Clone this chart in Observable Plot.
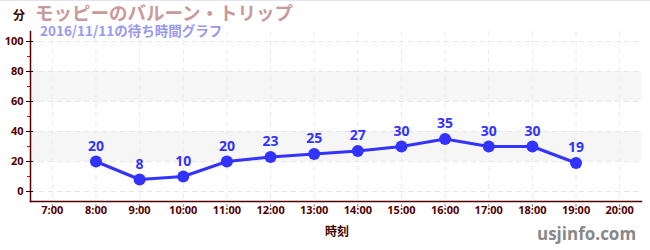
<!DOCTYPE html>
<html>
<head>
<meta charset="utf-8">
<script src="https://cdn.jsdelivr.net/npm/d3@7"></script>
<script src="https://cdn.jsdelivr.net/npm/@observablehq/plot@0.6"></script>
<style>
  html, body { margin: 0; padding: 0; background: #fff; }
  #wrap { position: relative; width: 650px; height: 250px; overflow: hidden; border-top: 1px solid #e4e4f6; box-sizing: border-box; }
  .t { position: absolute; white-space: nowrap; font-weight: bold; font-family: "Open Sans", "Noto Sans CJK JP", sans-serif; line-height: 1; }
  #wrap svg { position: absolute; left: 0; top: 0; }
</style>
</head>
<body>
<div id="wrap"></div>
<script>
// Data
const hours = [8, 9, 10, 11, 12, 13, 14, 15, 16, 17, 18, 19];
const waits = [20, 8, 10, 20, 23, 25, 27, 30, 35, 30, 30, 19];
const xTicks = [7, 8, 9, 10, 11, 12, 13, 14, 15, 16, 17, 18, 19, 20];
const yTicks = [0, 20, 40, 60, 80, 100];
const yMinorTicks = [10, 30, 50, 70, 90];
const bandLo = [20, 60];
const bandHi = [40, 80];
const xDomain = [6.5, 20.5];
const yDomain = [-6.67, 106.67];

const title = "モッピーのバルーン・トリップ";
const subtitle = "2016/11/11の待ち時間グラフ";
const yUnit = "分";
const xLabel = "時刻";
const credit = "usjinfo.com";

const data = hours.map((h, i) => ({h, v: waits[i]}));
const bands = bandLo.map((lo, i) => ({lo, hi: bandHi[i]}));

const axisColor = "#520000";
const lineColor = "#3333ff";

const chart = Plot.plot({
  width: 650,
  height: 250,
  marginLeft: 30,
  marginRight: 9,
  marginTop: 30,
  marginBottom: 50,
  style: {fontFamily: "'Open Sans', 'Noto Sans CJK JP', sans-serif", fontSize: "11px", fontWeight: "bold", background: "transparent"},
  x: {domain: xDomain},
  y: {domain: yDomain},
  marks: [
    Plot.rect(bands, {y1: "lo", y2: "hi", fill: "#f6f6f6"}),
    Plot.gridY(yTicks, {stroke: "#e6e6e6", strokeOpacity: 1, strokeDasharray: "5,4"}),
    Plot.gridX(xTicks, {stroke: "#ebebeb", strokeOpacity: 1, strokeDasharray: "5,4"}),
    Plot.axisX(xTicks, {tickSize: 3, dy: 3, stroke: "#888", text: null, label: null}),
    Plot.axisX(xTicks, {tickSize: 0, tickPadding: 5, fill: axisColor, tickFormat: d => d + ":00", label: null}),
    Plot.axisY(yTicks, {tickSize: 4, tickPadding: 3, stroke: "#000", fill: axisColor, label: null}),
    Plot.axisY(yTicks, {tickSize: 3, dx: 3, stroke: "#000", text: null, label: null}),
    Plot.axisY(yMinorTicks, {tickSize: 3, stroke: "#e00000", text: null, label: null}),
    Plot.frame({anchor: "left", stroke: axisColor, strokeWidth: 1.5}),
    Plot.frame({anchor: "bottom", stroke: axisColor, strokeWidth: 1.5}),
    Plot.line(data, {x: "h", y: "v", stroke: lineColor, strokeWidth: 3}),
    Plot.dot(data, {x: "h", y: "v", r: 6, fill: lineColor, stroke: "none"}),
    Plot.text(data, {x: "h", y: "v", text: "v", dy: -15, fill: lineColor, fontSize: 14, fontWeight: "bold"})
  ]
});

const wrap = document.getElementById("wrap");
wrap.appendChild(chart);

function addText(str, css) {
  const d = document.createElement("div");
  d.className = "t";
  d.textContent = str;
  Object.assign(d.style, css);
  wrap.appendChild(d);
}
addText(yUnit, {left: "13px", top: "8px", fontSize: "12px", color: "#3a0000", fontFamily: "'Noto Sans CJK JP', sans-serif"});
addText(title, {left: "35px", top: "2px", fontSize: "18.5px", color: "#c99a9a", fontFamily: "'Noto Sans CJK JP', sans-serif"});
addText(subtitle, {left: "40px", top: "23px", fontSize: "13.5px", color: "#9999ee", fontFamily: "'Noto Sans CJK JP', sans-serif"});
addText(xLabel, {left: "325px", top: "224px", fontSize: "12px", color: "#3a0000", fontFamily: "'Noto Sans CJK JP', sans-serif"});
addText(credit, {left: "537px", top: "224px", fontSize: "17px", color: "#888", fontFamily: "'Open Sans', sans-serif"});
</script>
</body>
</html>
